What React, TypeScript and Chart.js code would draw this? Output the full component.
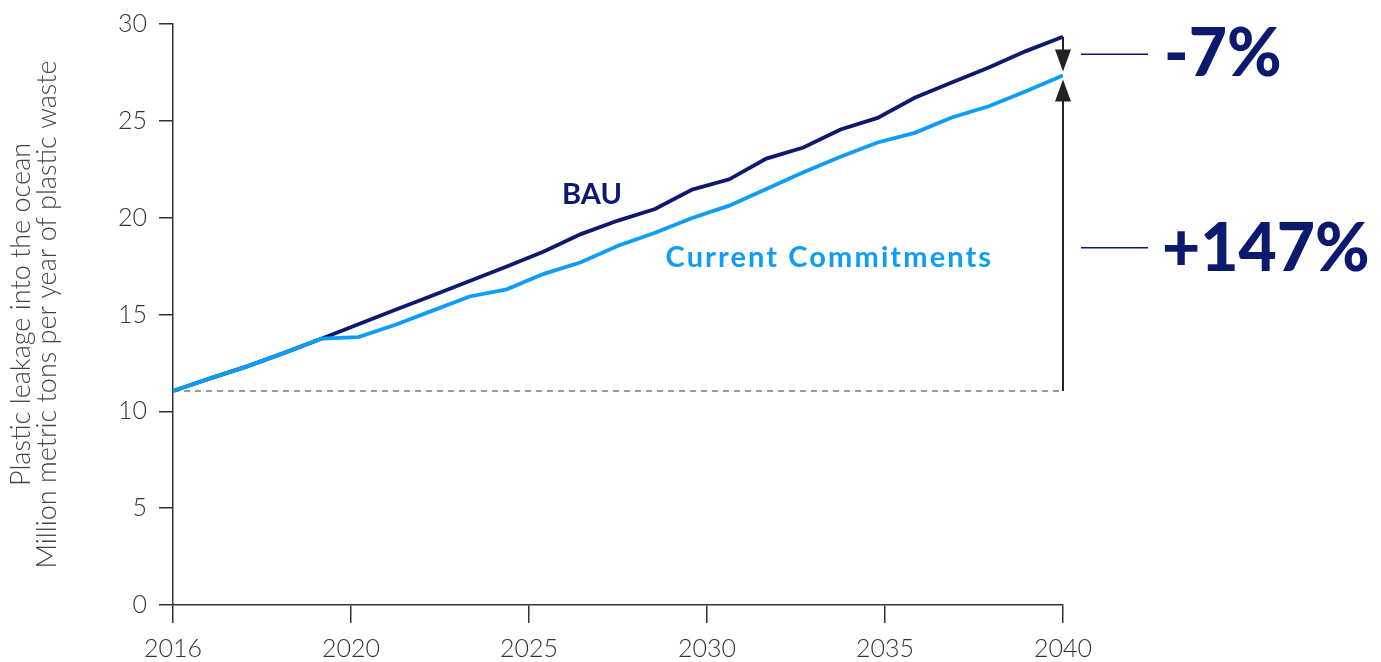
import React, { useEffect, useRef } from "react";
import { Chart, registerables } from "chart.js";

Chart.register(...registerables);

const years = [2016, 2017, 2018, 2019, 2020, 2021, 2022, 2023, 2024, 2025, 2026, 2027, 2028, 2029, 2030, 2031, 2032, 2033, 2034, 2035, 2036, 2037, 2038, 2039, 2040];
const bau = [11.05, 11.7, 12.32, 13.02, 13.75, 14.5, 15.24, 15.98, 16.73, 17.48, 18.25, 19.15, 19.85, 20.45, 21.45, 21.98, 23.05, 23.62, 24.55, 25.15, 26.19, 26.98, 27.75, 28.6, 29.34];
const currentCommitments = [11.05, 11.7, 12.32, 13.02, 13.75, 13.83, 14.47, 15.2, 15.93, 16.3, 17.1, 17.7, 18.55, 19.22, 19.98, 20.62, 21.48, 22.35, 23.15, 23.88, 24.38, 25.17, 25.75, 26.53, 27.34];
const xTickLabels = ["2016", "2020", "2025", "2030", "2035", "2040"];
const yTitle = ["Plastic leakage into the ocean", "Million metric tons per year of plastic waste"];
const seriesNames = ["BAU", "Current Commitments"];
const changeLabels = ["-7%", "+147%"];

const NAVY = "#0b1a6e";
const LIGHT = "#0d9cf6";

const annotationPlugin = {
  id: "annotations",
  afterDatasetsDraw(chart: any) {
    const { ctx, scales } = chart;
    const xs = scales.x;
    const ys = scales.y;
    const last = years.length - 1;
    const x = xs.getPixelForValue(years[last]);
    const yBase = ys.getPixelForValue(currentCommitments[0]);
    const yCur = ys.getPixelForValue(currentCommitments[last]);
    const yBau = ys.getPixelForValue(bau[last]);
    ctx.save();
    ctx.strokeStyle = "#222";
    ctx.lineWidth = 2;
    ctx.beginPath();
    ctx.moveTo(x, yBase);
    ctx.lineTo(x, yCur + 20);
    ctx.moveTo(x, yBau);
    ctx.lineTo(x, yCur - 20);
    ctx.stroke();
    ctx.fillStyle = "#222";
    const hw = 8;
    const h = 22;
    ctx.beginPath();
    ctx.moveTo(x, yCur + 4);
    ctx.lineTo(x - hw, yCur + 4 + h);
    ctx.lineTo(x + hw, yCur + 4 + h);
    ctx.closePath();
    ctx.fill();
    ctx.beginPath();
    ctx.moveTo(x, yCur - 4);
    ctx.lineTo(x - hw, yCur - 4 - h);
    ctx.lineTo(x + hw, yCur - 4 - h);
    ctx.closePath();
    ctx.fill();

    const y1 = (yBau + yCur) / 2 - 2;
    const y2 = ys.getPixelForValue(18.45);
    ctx.strokeStyle = NAVY;
    ctx.lineWidth = 1.5;
    ctx.beginPath();
    ctx.moveTo(x + 18, y1);
    ctx.lineTo(x + 85, y1);
    ctx.moveTo(x + 18, y2);
    ctx.lineTo(x + 85, y2);
    ctx.stroke();
    ctx.fillStyle = NAVY;
    ctx.font = "900 66px Lato";
    ctx.textAlign = "left";
    ctx.textBaseline = "middle";
    ctx.fillText(changeLabels[0], x + 101, y1 + 1);
    ctx.fillText(changeLabels[1], x + 99, y2 + 2);

    ctx.textAlign = "center";
    ctx.font = "bold 29px Lato";
    ctx.fillStyle = NAVY;
    ctx.fillText(seriesNames[0], xs.getPixelForValue(2027.3), ys.getPixelForValue(21.2));
    ctx.fillStyle = LIGHT;
    (ctx as any).letterSpacing = "2.1px";
    ctx.fillText(seriesNames[1], xs.getPixelForValue(2033.7), ys.getPixelForValue(17.96));
    ctx.restore();
  },
};

export default function App() {
  const ref = useRef<HTMLCanvasElement>(null);
  useEffect(() => {
    if (!ref.current) return;
    const base = currentCommitments[0];
    const chart = new Chart(ref.current, {
      type: "line",
      data: {
        datasets: [
          {
            label: seriesNames[1],
            data: years.map((y, i) => ({ x: y, y: currentCommitments[i] })),
            borderColor: LIGHT,
            borderWidth: 3.8,
            pointRadius: 0,
            tension: 0,
            order: 0,
          },
          {
            label: seriesNames[0],
            data: years.map((y, i) => ({ x: y, y: bau[i] })),
            borderColor: NAVY,
            borderWidth: 3.8,
            pointRadius: 0,
            tension: 0,
            order: 1,
          },
          {
            label: "baseline",
            data: [
              { x: years[0], y: base },
              { x: years[years.length - 1], y: base },
            ],
            borderColor: "#777",
            borderWidth: 1.5,
            borderDash: [6, 5],
            pointRadius: 0,
            order: 2,
          },
        ],
      },
      options: {
        animation: false,
        responsive: true,
        maintainAspectRatio: false,
        layout: { padding: { left: 0, top: 24, right: 318, bottom: 0 } },
        plugins: { legend: { display: false }, tooltip: { enabled: false } },
        scales: {
          x: {
            type: "linear",
            min: 2016,
            max: 2040,
            afterBuildTicks(scale: any) {
              scale.ticks = xTickLabels.map((_, i) => ({ value: 2016 + i * 4.8 }));
            },
            afterFit(scale: any) {
              scale.height = 57;
              scale.paddingLeft = 0;
              scale.paddingRight = 0;
            },
            grid: {
              drawOnChartArea: false,
              drawTicks: true,
              tickLength: 18,
              color: "#333",
              lineWidth: 1.5,
            },
            border: { display: true, color: "#333", width: 1.5 },
            ticks: {
              callback: (_v: any, i: number) => xTickLabels[i],
              color: "#333",
              font: { family: "Lato", size: 25, weight: "300" },
              padding: 11,
              maxRotation: 0,
              autoSkip: false,
            },
          },
          y: {
            min: 0,
            max: 30,
            afterFit(scale: any) {
              scale.width = 173;
              scale.paddingTop = 0;
              scale.paddingBottom = 0;
            },
            grid: {
              drawOnChartArea: false,
              drawTicks: true,
              tickLength: 14,
              color: "#333",
              lineWidth: 1.5,
            },
            border: { display: true, color: "#333", width: 1.5 },
            ticks: {
              stepSize: 5,
              color: "#333",
              font: { family: "Lato", size: 25, weight: "300" },
              padding: 12,
            },
            title: {
              display: true,
              text: yTitle,
              color: "#444",
              font: { family: "Lato", size: 27, weight: "300", lineHeight: 0.97 },
              padding: { top: 8, bottom: 0 },
            },
          },
        },
      },
      plugins: [annotationPlugin],
    });
    return () => chart.destroy();
  }, []);
  return (
    <div style={{ position: "absolute", left: 0, top: 0, width: 1381, height: 662 }}>
      <canvas ref={ref} />
    </div>
  );
}
